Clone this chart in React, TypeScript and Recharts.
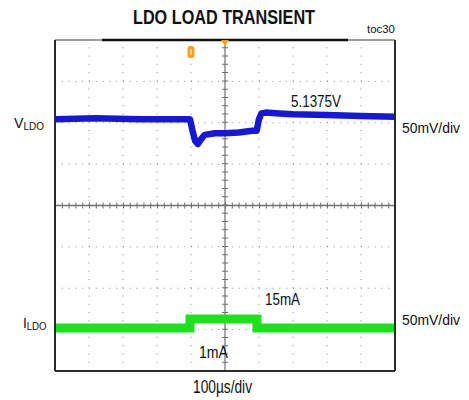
import React from "react";
import { LineChart, Line, XAxis, YAxis, ReferenceLine, ReferenceDot } from "recharts";

// scope trace: 100µs/div, 50mV/div
const vldoTimeUs = [0, 120, 250, 397, 404, 412, 420, 428, 440, 470, 500, 540, 580, 593, 600, 607, 620, 660, 700, 800, 900, 1000];
const vldoVolts = [5.130, 5.131, 5.130, 5.130, 5.117, 5.104, 5.100, 5.105, 5.111, 5.113, 5.113, 5.114, 5.116, 5.116, 5.130, 5.137, 5.138, 5.137, 5.136, 5.135, 5.134, 5.133];

const ildoTimeUs = [0, 397, 397, 594, 594, 1000];
const ildoMa = [1, 1, 15, 15, 1, 1];

const timeGridUs = [100, 200, 300, 400, 600, 700, 800, 900];
const vTop = 5.2257;
const vBottom = 4.8257;
const vPerDiv = 0.05;
const vGridDivs = [1, 2, 3, 5, 6, 7];
const iDomain = [-65.9, 448.9];

const vData = vldoTimeUs.map((t, i) => ({ t, v: vldoVolts[i] }));
const iData = ildoTimeUs.map((t, i) => ({ t, i: ildoMa[i] }));

const minorTimeTicks = Array.from({ length: 51 }, (_, k) => k * 20);
const minorVTicks = Array.from({ length: 41 }, (_, k) => vBottom + k * (vPerDiv / 5));
const vCenter = vBottom + 4 * vPerDiv;

const FONT = "'Liberation Sans', Arial, sans-serif";
const GRID = "#8a8a8a";
const FRAME = "#2b2b2b";

const TriggerMark = (p: any) => (
  <path d={`M${p.cx - 4},${p.cy} L${p.cx + 4},${p.cy} L${p.cx},${p.cy + 6} Z`} fill="#f5a21a" />
);
const CursorMark = (p: any) => (
  <g>
    <rect x={p.cx - 3.5} y={p.cy - 6} width={7} height={12} rx={3} fill="#f5a21a" />
    <line x1={p.cx} y1={p.cy - 3} x2={p.cx} y2={p.cy + 3} stroke="#fde2b0" strokeWidth={1.5} />
  </g>
);

// narrow scope-style lettering: squeeze each label into the width it takes on the reference
const Txt = (p: { x: number; y: number; w: number; size: number; bold?: boolean; sub?: string; children: string }) => (
  <text x={p.x} y={p.y} fontSize={p.size} fontWeight={p.bold ? "bold" : "normal"}
    textLength={p.w} lengthAdjust="spacingAndGlyphs">
    {p.children}
    {p.sub ? <tspan fontSize={p.size * 0.7} dy={1.5}>{p.sub}</tspan> : null}
  </text>
);

export default function App() {
  return (
    <div style={{ position: "absolute", left: 0, top: 0, width: 469, height: 400, background: "#fff" }}>
      <LineChart width={469} height={400} margin={{ top: 40, right: 74, bottom: 29, left: 55 }}>
        <XAxis xAxisId="b" type="number" dataKey="t" domain={[0, 1000]} ticks={minorTimeTicks} orientation="bottom"
          mirror tick={false} tickSize={3} axisLine={{ stroke: FRAME, strokeWidth: 2 }} tickLine={{ stroke: GRID }} allowDataOverflow />
        <XAxis xAxisId="t" type="number" dataKey="t" domain={[0, 1000]} ticks={minorTimeTicks} orientation="top"
          mirror tick={false} tickSize={3} axisLine={false} tickLine={{ stroke: GRID }} allowDataOverflow />
        <YAxis yAxisId="v" type="number" domain={[vBottom, vTop]} ticks={minorVTicks} orientation="left"
          mirror tick={false} tickSize={3} axisLine={{ stroke: FRAME, strokeWidth: 2 }} tickLine={{ stroke: GRID }} allowDataOverflow />
        <YAxis yAxisId="r" type="number" domain={[vBottom, vTop]} ticks={minorVTicks} orientation="right"
          mirror tick={false} tickSize={3} axisLine={{ stroke: FRAME, strokeWidth: 2 }} tickLine={{ stroke: GRID }} allowDataOverflow />
        <YAxis yAxisId="i" type="number" domain={iDomain} hide allowDataOverflow />

        {timeGridUs.map((t) => (
          <ReferenceLine key={"gx" + t} xAxisId="b" yAxisId="v" x={t} stroke={GRID} strokeDasharray="1 7.275" />
        ))}
        {vGridDivs.map((d) => (
          <ReferenceLine key={"gy" + d} xAxisId="b" yAxisId="v" y={vBottom + d * vPerDiv} stroke={GRID} strokeDasharray="1 5.8" />
        ))}
        <ReferenceLine xAxisId="b" yAxisId="v" x={500} stroke="#6f6f6f" strokeWidth={1.2} />
        <ReferenceLine xAxisId="b" yAxisId="v" x={500} stroke="#6f6f6f" strokeWidth={6} strokeDasharray="1 7.275" />
        <ReferenceLine xAxisId="b" yAxisId="v" y={vCenter} stroke="#6f6f6f" strokeWidth={1.5} />
        <ReferenceLine xAxisId="b" yAxisId="v" y={vCenter} stroke="#6f6f6f" strokeWidth={6} strokeDasharray="1 5.8" />
        <ReferenceLine xAxisId="b" yAxisId="v" ifOverflow="visible" stroke="#7a7a7a" strokeWidth={1.5}
          segment={[{ x: 0, y: vTop }, { x: 138, y: vTop }]} />
        <ReferenceLine xAxisId="b" yAxisId="v" ifOverflow="visible" stroke="#111111" strokeWidth={2.5}
          segment={[{ x: 138, y: vTop }, { x: 862, y: vTop }]} />
        <ReferenceLine xAxisId="b" yAxisId="v" ifOverflow="visible" stroke="#7a7a7a" strokeWidth={1.5}
          segment={[{ x: 862, y: vTop }, { x: 1000, y: vTop }]} />

        <Line xAxisId="b" yAxisId="v" data={vData} dataKey="v" type="linear" stroke="#1818d0" strokeWidth={6.5}
          dot={false} isAnimationActive={false} strokeLinejoin="round" />
        <Line xAxisId="b" yAxisId="i" data={iData} dataKey="i" type="linear" stroke="#20e020" strokeWidth={9}
          dot={false} isAnimationActive={false} />

        <ReferenceDot xAxisId="b" yAxisId="v" x={500} y={vTop} ifOverflow="visible" shape={TriggerMark} />
        <ReferenceDot xAxisId="b" yAxisId="v" x={400} y={5.2112} ifOverflow="visible" shape={CursorMark} />
      </LineChart>

      <svg width={469} height={400} style={{ position: "absolute", left: 0, top: 0, pointerEvents: "none" }}>
        <g fontFamily={FONT} fill="#111">
          <Txt x={133} y={24} w={182} size={19.5} bold>LDO LOAD TRANSIENT</Txt>
          <Txt x={367} y={33} w={28} size={11}>toc30</Txt>
          <Txt x={14} y={128} w={30} size={15.5} sub="LDO">V</Txt>
          <Txt x={23} y={328} w={23.5} size={15.5} sub="LDO">I</Txt>
          <Txt x={402} y={133} w={58} size={15.5}>50mV/div</Txt>
          <Txt x={402} y={325} w={58} size={15.5}>50mV/div</Txt>
          <Txt x={291} y={107} w={50} size={17}>5.1375V</Txt>
          <Txt x={265} y={305} w={35} size={17}>15mA</Txt>
          <Txt x={199} y={358} w={29} size={17}>1mA</Txt>
          <Txt x={193} y={393} w={59} size={17.5}>100µs/div</Txt>
        </g>
      </svg>
    </div>
  );
}
